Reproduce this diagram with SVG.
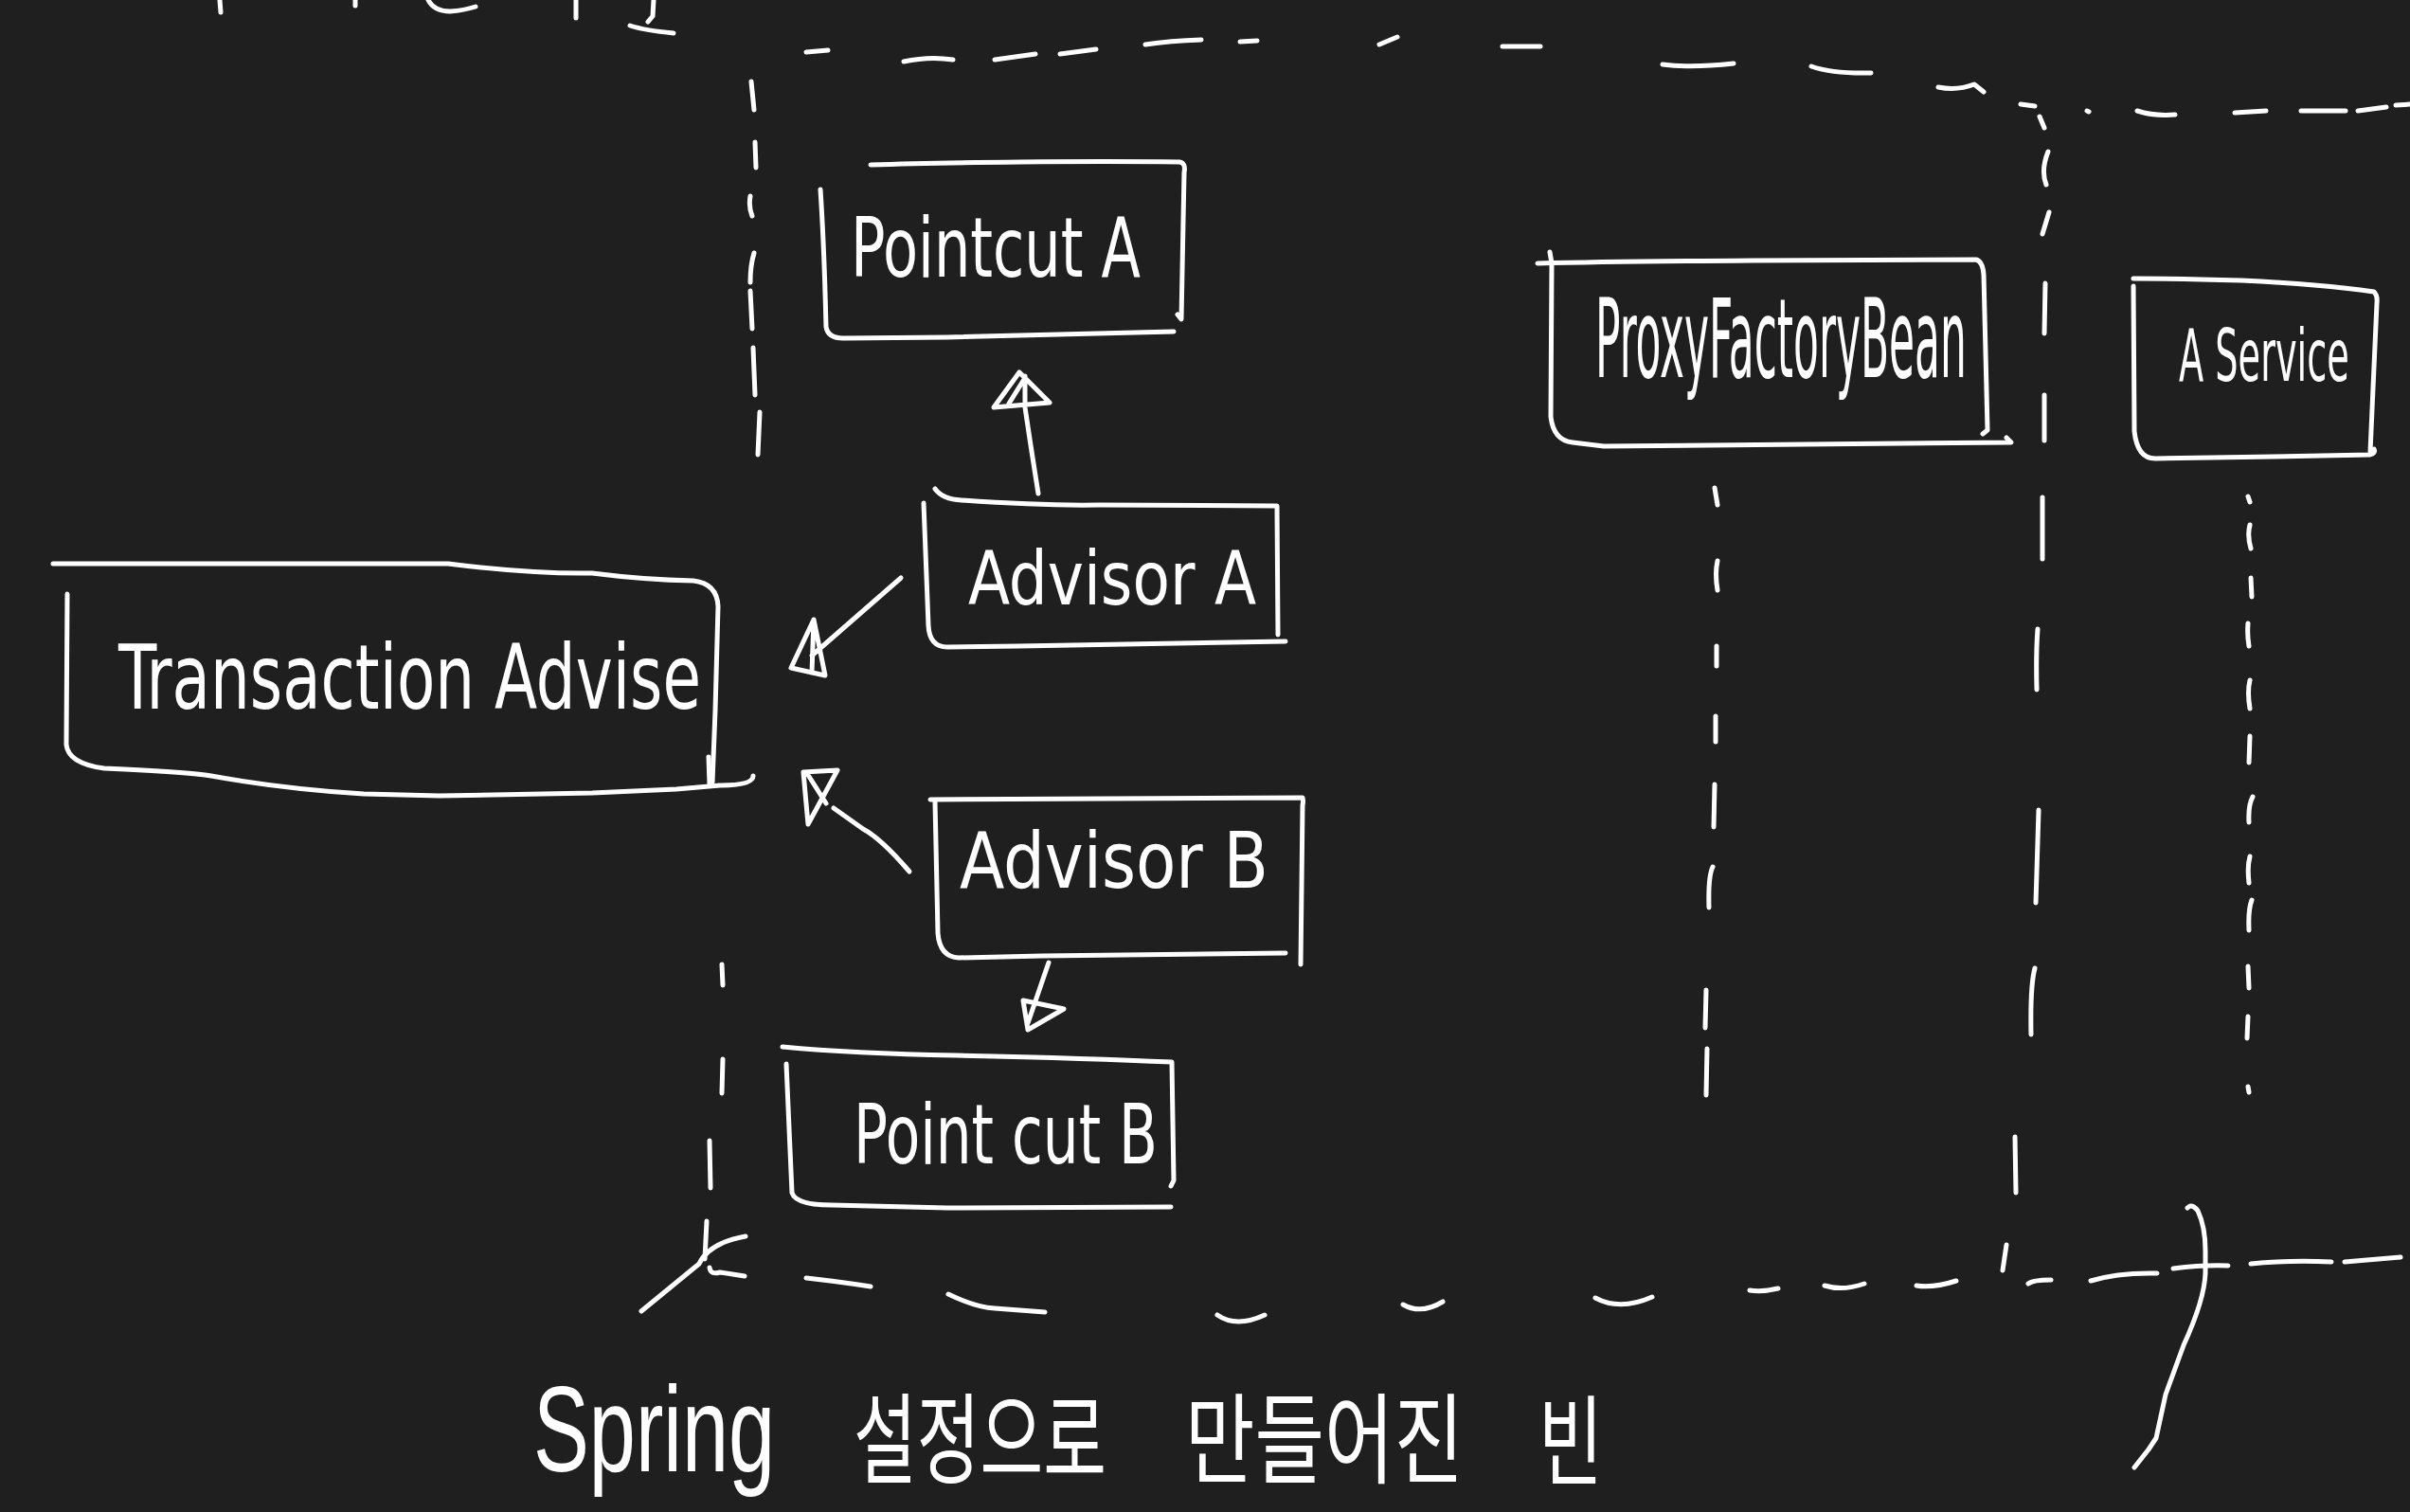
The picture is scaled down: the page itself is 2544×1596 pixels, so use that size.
<svg xmlns="http://www.w3.org/2000/svg" width="2544" height="1596" viewBox="0 0 2544 1596">
<style>
.s{fill:none;stroke:#fff;stroke-width:5;stroke-linecap:round;stroke-linejoin:round}
.d{fill:none;stroke:#fff;stroke-width:5;stroke-linecap:round;stroke-linejoin:round}
.t{fill:#fff;font-family:"DejaVu Sans Condensed","Liberation Sans Narrow","Liberation Sans",sans-serif;font-weight:normal}
.k{fill:#fff;font-family:"Liberation Sans","Noto Sans CJK KR",sans-serif;font-weight:normal}
</style>
<rect x="0" y="0" width="2544" height="1596" fill="#1f1f1f"/>

<g id="top-fragments" class="s">
<path d="M232,0 L233,13 M375,0 L375,6 M452,0 Q458,12 475,12 Q490,11 502,7 M608,0 L608,19 M690,0 L689,17 L684,23 M665,27 Q680,32 711,35"/>
</g>

<g id="spring-container" class="d">
<path d="M851,55 L874,53 M954,65 Q981,59 1006,63 M1050,63 L1093,57 M1119,57 L1157,52 M1209,47 Q1235,43 1268,42 M1309,44 L1327,43 M1456,47 L1475,39 M1586,49 L1626,49 M1755,68 Q1785,72 1830,67 M1912,70 Q1935,78 1975,77 M2046,92 Q2066,96 2084,89 L2094,97 M2133,110 L2148,112 M2203,117 L2205,118 M2256,117 Q2275,123 2296,121 M2359,119 L2392,117 M2429,117 L2476,117 M2489,117 L2519,113 M2529,111 L2544,110"/>
<path d="M793,86 L796,116 M797,150 L798,177 M792,207 Q790,218 794,228 M796,267 Q792,280 792,298 M792,307 L794,347 M795,367 L797,417 M802,435 L800,480 M762,1018 L763,1040 M763,1118 L762,1154 M749,1204 L750,1254 M746,1289 L744,1329"/>
<path d="M2153,123 L2158,135 M2162,160 Q2154,180 2160,195 M2163,224 L2156,247 M2159,299 L2158,352 M2158,417 L2158,465 M2156,525 L2156,590 M2151,664 Q2149,690 2150,728 M2152,855 L2149,953 M2148,1022 Q2143,1040 2144,1092 M2127,1200 L2128,1259 M2118,1314 L2114,1341"/>
<path d="M851,1349 Q880,1352 919,1358 M1001,1366 Q1030,1380 1050,1381 L1103,1385 M1285,1388 Q1305,1402 1335,1388 M1481,1377 Q1500,1388 1523,1374 M1684,1370 Q1710,1384 1744,1369 M1847,1362 Q1860,1364 1877,1360 M1926,1357 Q1945,1363 1968,1355 M2023,1357 Q2040,1360 2065,1352 M2141,1355 Q2146,1351 2165,1351 M2207,1352 Q2236,1343 2277,1344 M2294,1339 Q2326,1335 2352,1336 M2376,1334 Q2416,1330 2461,1332 M2475,1332 L2534,1327"/>
<path d="M787,1305 Q748,1312 738,1334 L677,1384 M749,1338 Q750,1346 760,1343 L786,1347"/>
<path d="M2309,1275 Q2314,1270 2320,1278 Q2328,1295 2328,1320 L2328,1344 Q2327,1372 2305,1420 L2286,1472 L2276,1518 L2268,1530 L2253,1549"/>
</g>

<g id="pointcut-a">
<path class="s" d="M919,174 C1000,171 1150,170 1245,171 Q1252,172 1250,182 L1247,337 L1243,332"/>
<path class="s" d="M866,200 Q870,260 872,345 Q874,357 890,357 L1000,356 L1239,350"/>
<text class="t" x="898" y="292" font-size="88" textLength="306" lengthAdjust="spacingAndGlyphs">Pointcut A</text>
</g>

<g id="advisor-a">
<path class="s" d="M987,516 Q995,527 1015,528 Q1100,534 1160,533 L1348,534 L1349,670"/>
<path class="s" d="M975,531 L980,660 Q981,683 1000,683 L1075,682 L1357,677"/>
<text class="t" x="1022" y="638" font-size="78" textLength="304" lengthAdjust="spacingAndGlyphs">Advisor A</text>
</g>

<g id="transaction-advise">
<path class="s" d="M56,595 L473,595 Q560,606 625,605 Q680,612 732,613 Q757,616 758,640 L755,750 L752,826"/>
<path class="s" d="M748,799 L749,828"/>
<path class="s" d="M71,627 L70,786 Q72,806 110,811 Q200,815 223,819 Q300,833 384,838 L464,840 L625,837 L714,833 L760,829 Q795,829 795,819"/>
<text class="t" x="125" y="748" font-size="94" textLength="615" lengthAdjust="spacingAndGlyphs">Transaction Advise</text>
</g>

<g id="advisor-b">
<path class="s" d="M982,844 L1375,842 Q1376,845 1375,850 L1373,1018"/>
<path class="s" d="M987,846 L990,985 Q992,1010 1012,1011 L1100,1009 L1357,1006"/>
<text class="t" x="1013" y="937" font-size="82" textLength="326" lengthAdjust="spacingAndGlyphs">Advisor B</text>
</g>

<g id="pointcut-b">
<path class="s" d="M826,1105 Q900,1112 1009,1114 Q1150,1117 1237,1121 L1239,1246 L1236,1252"/>
<path class="s" d="M830,1123 L836,1259 Q840,1272 878,1272 L1000,1275 L1236,1274"/>
<text class="t" x="901" y="1228" font-size="88" textLength="321" lengthAdjust="spacingAndGlyphs">Point cut B</text>
</g>

<g id="proxy-factory-bean">
<path class="s" d="M1623,278 Q1700,276 1850,275 L2086,274 Q2093,276 2094,290 L2098,454 L2093,458"/>
<path class="s" d="M1636,266 L1638,278 L1637,440 Q1640,465 1660,467 L1693,471 L2123,467 L2118,462"/>
<text class="t" transform="translate(1684,398) scale(0.42,1)" x="0" y="0" font-size="116" textLength="933" lengthAdjust="spacingAndGlyphs">ProxyFactoryBean</text>
</g>

<g id="a-service">
<path class="s" d="M2252,294 Q2300,294 2366,296 Q2450,300 2506,308 Q2510,312 2509,320 L2502,477"/>
<path class="s" d="M2252,302 L2253,455 Q2256,484 2275,484 L2400,482 L2502,480 Q2508,478 2506,474"/>
<text class="t" transform="translate(2300,402) scale(0.56,1)" x="0" y="0" font-size="76" textLength="321" lengthAdjust="spacingAndGlyphs">A Service</text>
</g>

<g id="connectors" class="s">
<path d="M1096,521 L1088,470 L1082,430 L1082,397 M1049,430 L1076,393 L1108,425 Z M1065,426 L1080,402"/>
<path d="M951,610 L857,692 M859,654 L835,705 L871,713 Z M859,654 L857,710"/>
<path d="M960,920 Q930,885 911,875 L880,853 M848,815 L853,870 L884,813 Z M853,818 L872,848"/>
<path d="M1107,1016 L1085,1080 M1080,1056 L1123,1065 L1085,1087 Z"/>
<g id="lifeline-proxy-factory-bean">
<path d="M1810,515 L1813,533 M1813,592 Q1810,605 1813,623 M1812,682 L1812,703 M1811,756 L1811,783 M1810,828 L1809,873 M1808,915 Q1803,925 1804,958 M1801,1045 L1800,1085 M1802,1107 L1801,1156"/>
</g>
<g id="lifeline-a-service">
<path d="M2373,524 L2375,530 M2375,554 Q2372,565 2376,579 M2376,610 L2377,630 M2373,658 Q2372,670 2374,682 M2375,718 Q2372,730 2375,748 M2375,777 L2374,805 M2378,841 Q2373,850 2374,868 M2375,904 Q2372,915 2374,932 M2377,950 Q2373,960 2374,982 M2373,1020 L2374,1043 M2373,1073 L2372,1096 M2373,1147 L2374,1153"/>
</g>
</g>

<g id="caption">
<text class="k" x="563" y="1553" font-size="128" textLength="255" lengthAdjust="spacingAndGlyphs">Spring</text>
<text class="k" x="901" y="1558" font-size="104" textLength="267" lengthAdjust="spacingAndGlyphs">설정으로</text>
<text class="k" x="1251" y="1558" font-size="104" textLength="294" lengthAdjust="spacingAndGlyphs">만들어진</text>
<text class="k" x="1624" y="1560" font-size="104" textLength="68" lengthAdjust="spacingAndGlyphs">빈</text>
</g>
</svg>
